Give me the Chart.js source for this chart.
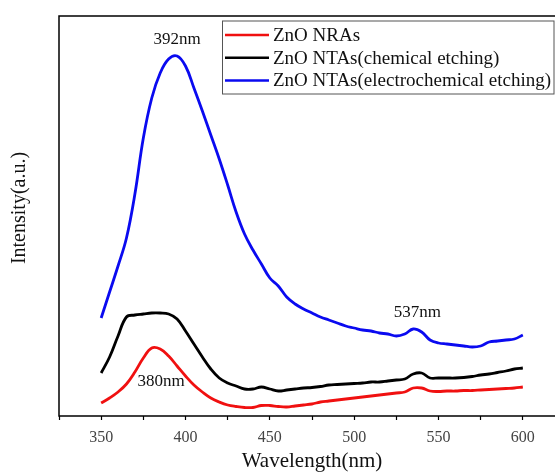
<!DOCTYPE html>
<html>
<head>
<meta charset="utf-8">
<script src="https://cdn.jsdelivr.net/npm/chart.js@4/dist/chart.umd.min.js"></script>
<style>
  html, body { margin: 0; padding: 0; background: #fff; overflow: hidden; }
  canvas { display: block; }
</style>
</head>
<body>
<canvas id="chart1" width="575" height="474"></canvas>
<script>
const wavelengths = [350, 355, 360, 365, 370, 375, 380, 385, 390, 395,
  400, 405, 410, 415, 420, 425, 430, 435, 440, 445,
  450, 455, 460, 465, 470, 475, 480, 485, 490, 495,
  500, 505, 510, 515, 520, 525, 530, 535, 540, 545,
  550, 555, 560, 565, 570, 575, 580, 585, 590, 595, 600];

const nras = [13, 18, 24, 32, 44, 58, 68, 67, 60, 50,
  40, 31, 24, 18, 14, 11, 9.5, 8.5, 8.5, 10.5,
  10.5, 9.5, 9, 10, 11, 12, 14, 15, 16, 17,
  18, 19, 20, 21, 22, 23, 24, 28, 28, 25,
  24.5, 25, 25, 25.5, 25.5, 26, 26.5, 27, 27.5, 28, 29];

const ntasChemical = [43, 59, 80, 99, 101, 102, 103, 103, 102, 97,
  85, 72, 59, 47, 38, 33, 30, 27, 27, 29,
  27, 25, 26, 27, 28, 28.5, 29.5, 31, 31.5, 32,
  32.5, 33, 34, 34, 35, 36, 37, 42, 43, 38,
  38, 38, 38, 38.5, 39.5, 41, 42, 43.5, 45, 47, 48];

const ntasElectro = [98, 124, 150, 178, 222, 278, 318, 343, 357, 360,
  350, 328, 305, 281, 257, 231, 204, 182, 166, 152,
  138, 130, 119, 112, 107, 103, 99, 96, 93, 90,
  88, 86, 85, 83, 82, 80, 82, 87, 84, 76,
  73, 72, 71, 70, 69, 70, 74, 75, 76, 77, 81];

const seriesNames = ['ZnO NRAs', 'ZnO NTAs(chemical etching)', 'ZnO NTAs(electrochemical etching)'];
const seriesColors = ['#f01010', '#000000', '#0a0af0'];

const peakLabels = ['392nm', '537nm', '380nm'];
const peakX = [395, 537.5, 385.5];
const peakY = [376, 103, 34];

const serif = '"Liberation Serif", "Times New Roman", serif';

function points(ys) {
  return wavelengths.map((w, i) => ({ x: w, y: ys[i] }));
}

// frame, y title, legend box and peak labels
const extras = {
  id: 'extras',
  afterDraw(chart) {
    const ctx = chart.ctx;
    const a = chart.chartArea;
    const xs = chart.scales.x, ys = chart.scales.y;
    ctx.save();
    ctx.strokeStyle = '#000';
    ctx.lineWidth = 1.5;
    ctx.beginPath();
    ctx.moveTo(chart.width, a.top);
    ctx.lineTo(a.left, a.top);
    ctx.lineTo(a.left, a.bottom);
    ctx.lineTo(chart.width, a.bottom);
    ctx.stroke();

    ctx.fillStyle = '#111';
    ctx.textAlign = 'center';
    ctx.textBaseline = 'middle';
    ctx.save();
    ctx.translate(20, 208);
    ctx.rotate(-Math.PI / 2);
    ctx.font = '20px ' + serif;
    ctx.fillText('Intensity(a.u.)', 0, 0);
    ctx.restore();

    ctx.font = '17px ' + serif;
    peakLabels.forEach((t, i) => {
      ctx.fillText(t, xs.getPixelForValue(peakX[i]), ys.getPixelForValue(peakY[i]));
    });

    // legend
    const bx = 222.5, by = 21, bw = 331.5, bh = 73;
    ctx.fillStyle = '#fff';
    ctx.fillRect(bx, by, bw, bh);
    ctx.strokeStyle = '#555';
    ctx.lineWidth = 1;
    ctx.strokeRect(bx, by, bw, bh);
    ctx.font = '19px ' + serif;
    ctx.textAlign = 'left';
    seriesNames.forEach((name, i) => {
      const y = 35 + i * 22.7;
      ctx.strokeStyle = seriesColors[i];
      ctx.lineWidth = 2.5;
      ctx.beginPath();
      ctx.moveTo(225, y);
      ctx.lineTo(269, y);
      ctx.stroke();
      ctx.fillStyle = '#111';
      ctx.fillText(name, 273, y + 1);
    });
    ctx.restore();
  }
};

new Chart(document.getElementById('chart1'), {
  type: 'line',
  data: {
    datasets: [
      { label: seriesNames[0], data: points(nras), borderColor: seriesColors[0] },
      { label: seriesNames[1], data: points(ntasChemical), borderColor: seriesColors[1] },
      { label: seriesNames[2], data: points(ntasElectro), borderColor: seriesColors[2] }
    ]
  },
  options: {
    responsive: false,
    animation: false,
    layout: { padding: { top: 16, right: 10, left: 0, bottom: 0 } },
    elements: {
      point: { radius: 0 },
      line: { borderWidth: 2.8, tension: 0.4, fill: false, borderJoinStyle: 'round' }
    },
    plugins: {
      legend: { display: false },
      tooltip: { enabled: false }
    },
    scales: {
      x: {
        type: 'linear',
        min: 325,
        max: 625,
        afterFit(scale) { scale.height = 58; },
        border: { display: false },
        grid: { drawOnChartArea: false, drawTicks: true, tickLength: 4, color: '#000', tickWidth: 1.2 },
        ticks: {
          stepSize: 25,
          autoSkip: false,
          maxRotation: 0,
          padding: 8,
          color: '#444',
          font: { family: serif, size: 16 },
          callback: v => (v % 50 === 0 && v >= 350 && v <= 600) ? String(v) : ''
        },
        title: {
          display: true,
          text: 'Wavelength(nm)',
          color: '#111',
          font: { family: serif, size: 21, lineHeight: 1.2 },
          padding: { top: 0, bottom: 0 }
        }
      },
      y: {
        min: 0,
        max: 400,
        afterFit(scale) { scale.width = 59; },
        border: { display: false },
        grid: { display: false },
        ticks: { display: false },
        title: { display: false }
      }
    }
  },
  plugins: [extras]
});
</script>
</body>
</html>
